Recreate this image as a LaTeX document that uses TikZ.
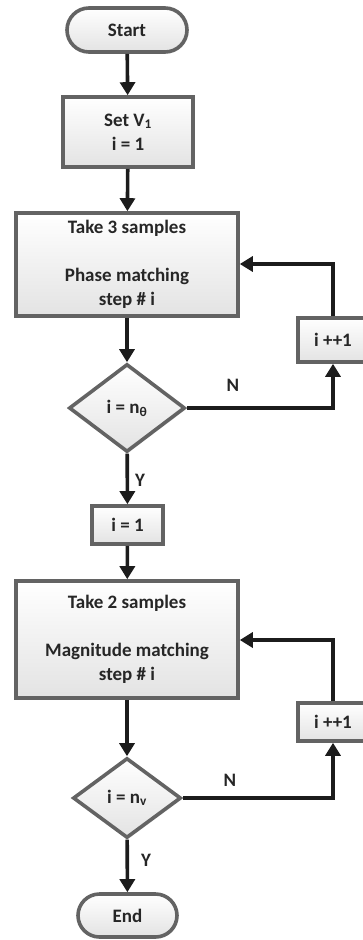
\documentclass[tikz,border=0pt]{standalone}
\usepackage{fontspec}
\setmainfont{Carlito}
\usetikzlibrary{shapes.geometric,shapes.misc,arrows.meta,shadows}
\definecolor{bordergray}{HTML}{636363}
\definecolor{arrowblack}{HTML}{1C1C1C}
\begin{document}
\begin{tikzpicture}[x=1pt,y=-1pt,
  base/.style={draw=bordergray, line width=3.6pt, top color=white, bottom color=black!11,
    font=\fontsize{19}{24}\selectfont\bfseries, text=black!85, align=center, inner sep=0pt,
    drop shadow={opacity=0.18, shadow xshift=1.5pt, shadow yshift=-1.5pt}},
  term/.style={base, rounded rectangle},
  proc/.style={base, rectangle},
  dec/.style={base, diamond},
  flow/.style={draw=arrowblack, line width=3.6pt, -{Triangle[length=13pt,width=15pt]}},
  lbl/.style={font=\fontsize{19}{22}\selectfont\bfseries, text=black!85, inner sep=0pt}
]
\useasboundingbox (0,0) rectangle (362,940);
\node[term, minimum width=120pt, minimum height=44pt] (start) at (127,30) {Start};
\node[proc, minimum width=130pt, minimum height=70pt] (setv) at (128,132) {Set V\textsubscript{1}\\i = 1};
\node[proc, minimum width=222pt, minimum height=103pt] (take3) at (127,264.5) {Take 3 samples\\ \\Phase matching\\step \# i};
\node[proc, minimum width=70pt, minimum height=44pt] (inc1) at (333,340) {i ++1};
\node[dec, minimum width=116pt, minimum height=88pt] (d1) at (127,408) {i = n\textsubscript{θ}};
\node[proc, minimum width=71pt, minimum height=38pt] (ione) at (127.5,525) {i = 1};
\node[proc, minimum width=222pt, minimum height=117pt] (take2) at (127,639.5) {Take 2 samples\\ \\Magnitude matching\\step \# i};
\node[proc, minimum width=70pt, minimum height=38pt] (inc2) at (333,722) {i ++1};
\node[dec, minimum width=108pt, minimum height=80pt] (d2) at (127,798) {i = n\textsubscript{v}};
\node[term, minimum width=99pt, minimum height=43pt] (end) at (127.5,915.5) {End};

\draw[flow] (start) -- (setv);
\draw[flow] (setv) -- (take3);
\draw[flow] (take3) -- (d1);
\draw[flow] (d1) -- (ione);
\draw[flow] (ione) -- (take2);
\draw[flow] (take2) -- (d2);
\draw[flow] (d2) -- (end);
\draw[flow] (d1.east) -| (inc1.south);
\draw[flow] (inc1.north) |- (take3.east |- 0,264);
\draw[flow] (d2.east) -| (inc2.south);
\draw[flow] (inc2.north) |- (take2.east |- 0,640);

\node[lbl] (n1) at (233,385) {N};
\node[lbl] (y1) at (140,480) {Y};
\node[lbl] (n2) at (230,780) {N};
\node[lbl] (y2) at (146,860) {Y};
\end{tikzpicture}
\end{document}
